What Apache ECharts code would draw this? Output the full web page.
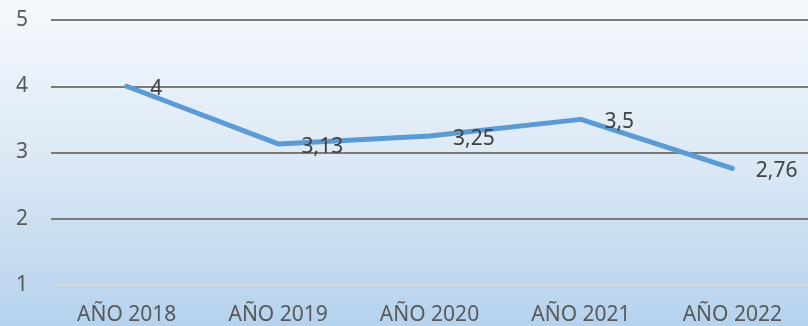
<!DOCTYPE html>
<html>
<head>
<meta charset="utf-8">
<script src="https://cdn.jsdelivr.net/npm/echarts@6/dist/echarts.min.js"></script>
<style>
  html, body { margin: 0; padding: 0; }
  #chart { width: 808px; height: 326px; }
</style>
</head>
<body>
<div id="chart"></div>
<script>
// Yearly values (average score per year)
const categories = ['AÑO 2018', 'AÑO 2019', 'AÑO 2020', 'AÑO 2021', 'AÑO 2022'];
const values = [4, 3.13, 3.25, 3.5, 2.76];
const yTicks = { min: 1, max: 5, interval: 1 };

const chart = echarts.init(document.getElementById('chart'));
const fontFamily = '"Noto Sans", "Open Sans", sans-serif';

chart.setOption({
  animation: false,
  backgroundColor: new echarts.graphic.LinearGradient(0, 0, 0, 1, [
    { offset: 0, color: '#f6f9fd' },
    { offset: 0.5, color: '#dbe8f5' },
    { offset: 1, color: '#b5d2ed' }
  ]),
  grid: { left: 51, right: -10, top: 20, bottom: 40 },
  xAxis: {
    type: 'category',
    data: categories,
    boundaryGap: true,
    axisLine: { show: false },
    axisTick: { show: false },
    axisLabel: { color: '#595959', fontSize: 21, fontFamily: fontFamily, margin: 20 }
  },
  yAxis: {
    type: 'value',
    min: yTicks.min,
    max: yTicks.max,
    interval: yTicks.interval,
    axisLine: { show: false },
    axisTick: { show: false },
    axisLabel: { color: '#595959', fontSize: 21, fontFamily: fontFamily, margin: 23 },
    splitLine: {
      lineStyle: { color: ['#d9d9d9', '#7a7a7a', '#7a7a7a', '#7a7a7a', '#7a7a7a'], width: 2 }
    }
  },
  series: [{
    type: 'line',
    data: values,
    symbol: 'circle',
    symbolSize: 1,
    itemStyle: { color: '#5b9bd5' },
    lineStyle: { color: '#5b9bd5', width: 5, cap: 'round', join: 'round' },
    label: {
      show: true,
      position: 'right',
      distance: 23,
      offset: [0, 3],
      color: '#404040',
      fontSize: 21,
      fontFamily: fontFamily,
      formatter: p => String(p.value).replace('.', ',')
    }
  }]
});
</script>
</body>
</html>
